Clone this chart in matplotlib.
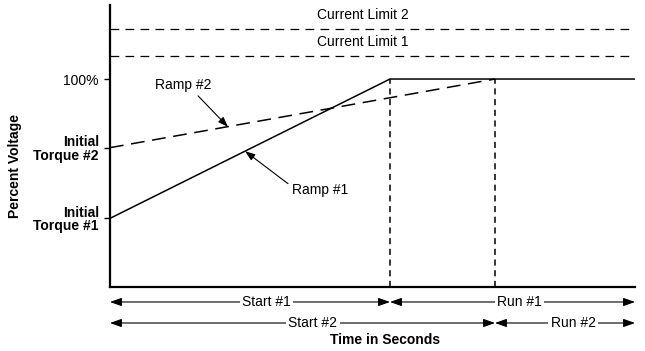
import matplotlib
matplotlib.use('Agg')
import matplotlib.pyplot as plt

plt.rcParams['font.family'] = ['Liberation Sans', 'DejaVu Sans']

# data (time in arbitrary seconds, voltage in percent)
ramp1_t = [0, 8, 15]
ramp1_v = [33, 100, 100]
ramp2_t = [0, 11]
ramp2_v = [67, 100]
limit_names = ['Current Limit 1', 'Current Limit 2']
limit_levels = [111, 124]
start_ends = [8, 11]          # end of Start #1 / Start #2
t_end = 15
ytick_vals = [33, 67, 100]
ytick_labels = ['Initial\nTorque #1', 'Initial\nTorque #2', '100%']

fig = plt.figure(figsize=(6.45, 3.51), dpi=100)
ax = fig.add_axes([0.1705, 0.1823, 0.814, 0.8035])
ax.set_xlim(0, t_end)
ax.set_ylim(0, 135.6)

fs = 10

# current limits
for name, lvl in zip(limit_names, limit_levels):
    ax.plot([0, t_end], [lvl, lvl], color='black', lw=0.9, dashes=(7, 5))
    ax.text(7.23, lvl + 3.4, name, ha='center', va='bottom', fontsize=fs)

# ramps
ax.plot(ramp1_t, ramp1_v, color='black', lw=1.1, solid_capstyle='butt')
ax.plot(ramp2_t, ramp2_v, color='black', lw=1.1, dashes=(9, 5))

# vertical markers where the ramps reach 100%
for t in start_ends:
    ax.plot([t, t], [0, 100], color='black', lw=1.1, dashes=(4, 3))

# ramp callouts
arrow_kw = dict(arrowstyle='-|>,head_length=0.6,head_width=0.22', color='black',
                lw=0.8, shrinkA=1, shrinkB=0)
ax.annotate('Ramp #2', xy=(3.37, 77.0), xytext=(2.09, 97.1), ha='center', va='center',
            fontsize=fs, arrowprops=dict(arrow_kw, relpos=(0.7, 0.0)))
ax.annotate('Ramp #1', xy=(3.86, 65.3), xytext=(6.0, 46.6), ha='center', va='center',
            fontsize=fs, arrowprops=dict(arrow_kw, relpos=(0.0, 0.75)))

# axes styling
for side in ['top', 'right']:
    ax.spines[side].set_visible(False)
for side in ['left', 'bottom']:
    ax.spines[side].set_linewidth(1.6)
ax.set_xticks([])
ax.set_yticks(ytick_vals)
ax.set_yticklabels(ytick_labels, fontsize=fs, linespacing=0.95)
for lbl in ax.get_yticklabels():
    if lbl.get_text().startswith('Initial'):
        lbl.set_fontweight('bold')
ax.tick_params(axis='y', direction='out', length=4.5, width=1.0, pad=3.5)

ax.set_ylabel('Percent Voltage', fontsize=fs, fontweight='bold')
ax.yaxis.set_label_coords(-0.168, 0.43)
ax.text(0.524, -0.188, 'Time in Seconds', transform=ax.transAxes, ha='center',
        va='center', fontsize=fs, fontweight='bold')

# phase arrows under the axis
rows = [
    (-7.2, [(0, start_ends[0], 'Start #1', 4.46), (start_ends[0], t_end, 'Run #1', 11.71)]),
    (-17.3, [(0, start_ends[1], 'Start #2', 5.8), (start_ends[1], t_end, 'Run #2', 13.23)]),
]
span_kw = dict(arrowstyle='<|-|>,head_length=0.7,head_width=0.25', color='black',
               lw=0.8, shrinkA=0, shrinkB=0)
for y, spans in rows:
    for a, b, name, tx in spans:
        ax.annotate('', xy=(b, y), xytext=(a, y), arrowprops=span_kw,
                    annotation_clip=False)
        ax.text(tx, y, name, ha='center', va='center', fontsize=fs, clip_on=False,
                bbox=dict(facecolor='white', edgecolor='none', pad=1.5))

fig.savefig('out.png', dpi=100)
